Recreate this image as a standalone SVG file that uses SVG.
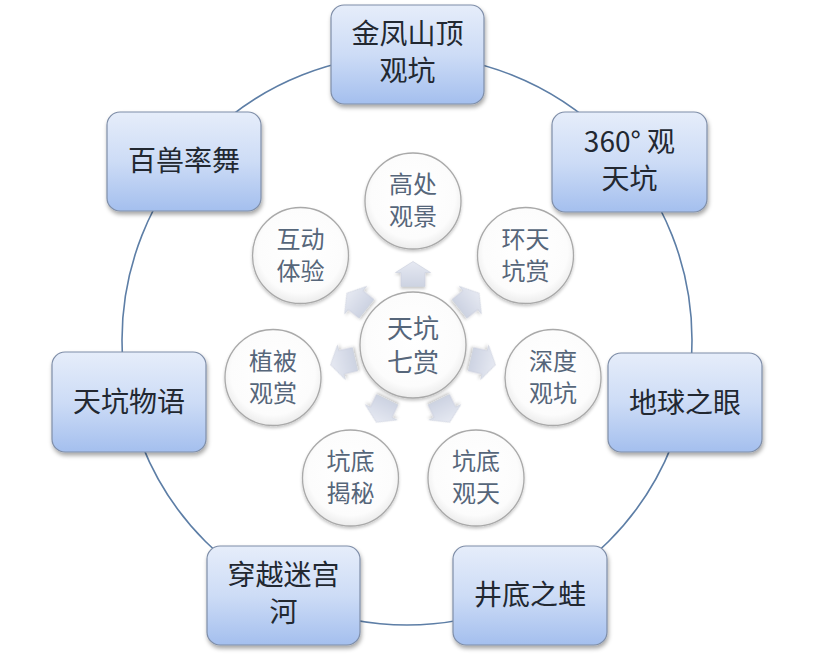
<svg xmlns="http://www.w3.org/2000/svg" width="813" height="655" viewBox="0 0 813 655">
<defs>
<linearGradient id="boxGrad" x1="0" y1="0" x2="0" y2="1">
<stop offset="0" stop-color="#e6edfa"/>
<stop offset="0.5" stop-color="#cddcf6"/>
<stop offset="1" stop-color="#a4bfee"/>
</linearGradient>
<radialGradient id="circGrad" cx="0.5" cy="0.45" r="0.55">
<stop offset="0" stop-color="#ffffff"/>
<stop offset="0.8" stop-color="#fcfcfc"/>
<stop offset="1" stop-color="#ececec"/>
</radialGradient>
<linearGradient id="arrGrad" x1="0" y1="0" x2="0" y2="1">
<stop offset="0" stop-color="#e6e9f2"/>
<stop offset="1" stop-color="#cdd3e2"/>
</linearGradient>
<filter id="shadow" x="-20%" y="-20%" width="140%" height="150%">
<feDropShadow dx="1" dy="3" stdDeviation="2.2" flood-color="#000" flood-opacity="0.35"/>
</filter>
<filter id="cshadow" x="-20%" y="-20%" width="140%" height="150%">
<feDropShadow dx="0" dy="2" stdDeviation="1.8" flood-color="#000" flood-opacity="0.22"/>
</filter>
<polygon id="arrow" points="0,-12.5 17.5,-1.5 12,-1.5 12,12.5 -12,12.5 -12,-1.5 -17.5,-1.5"/>
</defs>
<style>
.box{fill:url(#boxGrad);stroke:#7f8ea8;stroke-width:1.2;filter:url(#shadow);}
.btxt{font-family:"Noto Sans CJK SC","Noto Sans",sans-serif;font-size:28px;fill:#222831;text-anchor:middle;}
.circ{fill:url(#circGrad);stroke:#a9a9a9;stroke-width:1.3;filter:url(#cshadow);}
.ctxt{font-family:"Noto Sans CJK SC","Noto Sans",sans-serif;font-size:24px;fill:#56667a;text-anchor:middle;}
.mtxt{font-family:"Noto Sans CJK SC","Noto Sans",sans-serif;font-size:26px;fill:#56667a;text-anchor:middle;}
.ring{fill:none;stroke:#5d7ea6;stroke-width:1.6;}
.arr{fill:url(#arrGrad);stroke:#c9cfdc;stroke-width:0.6;filter:url(#cshadow);}
</style>
<rect width="813" height="655" fill="#ffffff"/>

<g id="connectors">
<circle class="ring" cx="407" cy="340" r="285"/>
<use href="#arrow" class="arr" transform="translate(413,274) rotate(0)"/>
<use href="#arrow" class="arr" transform="translate(469.3,301) rotate(51.4)"/>
<use href="#arrow" class="arr" transform="translate(483.2,362) rotate(102.9)"/>
<use href="#arrow" class="arr" transform="translate(444.2,411) rotate(154.3)"/>
<use href="#arrow" class="arr" transform="translate(381.8,411) rotate(205.7)"/>
<use href="#arrow" class="arr" transform="translate(342.8,362) rotate(257.1)"/>
<use href="#arrow" class="arr" transform="translate(356.7,301) rotate(308.6)"/>
</g>

<g id="box-jinfeng">
<rect class="box" x="331" y="5" width="153" height="99" rx="13"/>
<text class="btxt" x="407.5" y="44">金凤山顶<tspan x="407.5" dy="37">观坑</tspan></text>
</g>
<g id="box-360">
<rect class="box" x="552" y="112" width="155" height="100" rx="13"/>
<text class="btxt" x="629.5" y="152">360° 观<tspan x="629.5" dy="37">天坑</tspan></text>
</g>
<g id="box-baishou">
<rect class="box" x="107" y="112" width="154" height="99" rx="13"/>
<text class="btxt" x="184" y="171">百兽率舞</text>
</g>
<g id="box-wuyu">
<rect class="box" x="52" y="352" width="154" height="100" rx="13"/>
<text class="btxt" x="129" y="412">天坑物语</text>
</g>
<g id="box-diqiu">
<rect class="box" x="608" y="353" width="154" height="99" rx="13"/>
<text class="btxt" x="685" y="413">地球之眼</text>
</g>
<g id="box-chuanyue">
<rect class="box" x="207" y="546" width="153" height="99" rx="13"/>
<text class="btxt" x="283.5" y="585">穿越迷宫<tspan x="283.5" dy="37">河</tspan></text>
</g>
<g id="box-jingdi">
<rect class="box" x="453" y="546" width="154" height="99" rx="13"/>
<text class="btxt" x="530" y="605">井底之蛙</text>
</g>

<g id="node-center">
<circle class="circ" cx="413" cy="345" r="53"/>
<text class="mtxt" x="413" y="338">天坑<tspan x="413" dy="34">七赏</tspan></text>
</g>
<g id="node-gaochu">
<circle class="circ" cx="413" cy="201" r="48"/>
<text class="ctxt" x="413" y="193">高处<tspan x="413" dy="32">观景</tspan></text>
</g>
<g id="node-huantian">
<circle class="circ" cx="525.5" cy="255.5" r="48"/>
<text class="ctxt" x="525.5" y="248">环天<tspan x="525.5" dy="32">坑赏</tspan></text>
</g>
<g id="node-shendu">
<circle class="circ" cx="553" cy="377.5" r="48"/>
<text class="ctxt" x="553" y="370">深度<tspan x="553" dy="32">观坑</tspan></text>
</g>
<g id="node-guantian">
<circle class="circ" cx="476" cy="478" r="48"/>
<text class="ctxt" x="476" y="470">坑底<tspan x="476" dy="32">观天</tspan></text>
</g>
<g id="node-jiemi">
<circle class="circ" cx="350.5" cy="478" r="48"/>
<text class="ctxt" x="350.5" y="470">坑底<tspan x="350.5" dy="32">揭秘</tspan></text>
</g>
<g id="node-zhibei">
<circle class="circ" cx="273" cy="377.5" r="48"/>
<text class="ctxt" x="273" y="370">植被<tspan x="273" dy="32">观赏</tspan></text>
</g>
<g id="node-hudong">
<circle class="circ" cx="300.5" cy="255.5" r="48"/>
<text class="ctxt" x="300.5" y="248">互动<tspan x="300.5" dy="32">体验</tspan></text>
</g>
</svg>
